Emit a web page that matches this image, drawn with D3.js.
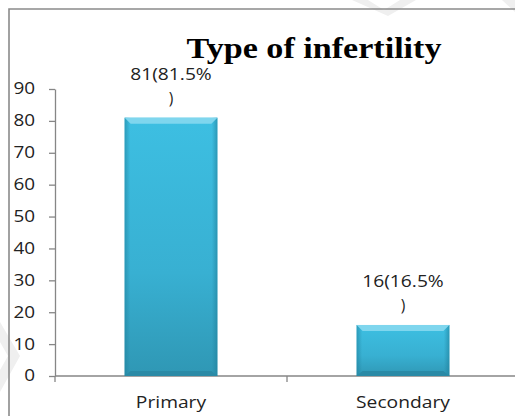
<!DOCTYPE html>
<html lang="en">
<head>
    <meta charset="UTF-8">
    <title>Type of infertility</title>
    <script src="https://d3js.org/d3.v7.min.js"></script>
    <style>
        html, body {
            margin: 0;
            overflow: hidden;
            background: #fff;
        }

        svg {
            display: block;
        }

        .axis text {
            font-family: "Open Sans", sans-serif;
            font-size: 15.5px;
            fill: #222;
        }

        .axis path,
        .axis line {
            stroke: #868686;
            stroke-width: 1.3px;
        }

        .label {
            font-family: "Open Sans", sans-serif;
            font-size: 15.5px;
            fill: #222;
        }

        .title {
            font-family: "Liberation Serif", "Times New Roman", serif;
            font-weight: bold;
            font-size: 30px;
            fill: #000;
        }
    </style>
</head>
<body>
    <svg width="515" height="416"></svg>
    <script>
        // chart data
        const categories = ["Primary", "Secondary"];
        const counts = [81, 16];
        const percents = ["81.5%", "16.5%"];
        const yTicks = [0, 10, 20, 30, 40, 50, 60, 70, 80, 90];

        const width = 515;
        const height = 416;
        const margin = { top: 89, bottom: 40, left: 55, right: -4 };

        const svg = d3.select("svg");

        // the source picture is stretched sideways, so text is widened to match
        function stretch(sel, sx) {
            sel.each(function () {
                const w = this.getComputedTextLength();
                d3.select(this)
                    .attr("textLength", w * sx)
                    .attr("lengthAdjust", "spacingAndGlyphs");
            });
        }

        // faint watermark shapes in the background
        svg.append("path")
            .attr("d", "M352,0 L368,0 L384,10 L400,0 L416,0 L388,16 Z M502,0 L515,0 L515,12 Z M0,322 L20,356 L0,392 L0,370 L8,356 L0,342 Z")
            .attr("fill", "#efefef");

        // frame of the chart area
        svg.append("path")
            .attr("d", `M9,${height} L9,9 L${width},9`)
            .attr("fill", "none")
            .attr("stroke", "#8a8a8a")
            .attr("stroke-width", 1.6);

        const xScale = d3.scaleBand()
            .domain(categories)
            .range([margin.left, width - margin.right]);

        const yScale = d3.scaleLinear()
            .domain([0, 90])
            .range([height - margin.bottom, margin.top]);

        // bar gradients
        const defs = svg.append("defs");
        const grad = defs.append("linearGradient")
            .attr("id", "barFill")
            .attr("x1", 0).attr("y1", 0).attr("x2", 0).attr("y2", 1);
        grad.append("stop").attr("offset", "0%").attr("stop-color", "#3dbfe2");
        grad.append("stop").attr("offset", "60%").attr("stop-color", "#38b0d2");
        grad.append("stop").attr("offset", "100%").attr("stop-color", "#2f97b4");

        const sideGrad = defs.append("linearGradient")
            .attr("id", "sideShade")
            .attr("x1", 0).attr("y1", 0).attr("x2", 1).attr("y2", 0);
        sideGrad.append("stop").attr("offset", "0%").attr("stop-color", "#1f7f9a").attr("stop-opacity", 0.55);
        sideGrad.append("stop").attr("offset", "6%").attr("stop-color", "#1f7f9a").attr("stop-opacity", 0);
        sideGrad.append("stop").attr("offset", "94%").attr("stop-color", "#1f7f9a").attr("stop-opacity", 0);
        sideGrad.append("stop").attr("offset", "100%").attr("stop-color", "#1f7f9a").attr("stop-opacity", 0.6);

        // y axis
        const yAxis = svg.append("g").attr("class", "axis")
            .attr("transform", `translate(${margin.left},0)`)
            .call(d3.axisLeft(yScale).tickValues(yTicks).tickSize(6).tickSizeOuter(0).tickPadding(14));
        stretch(yAxis.selectAll("text"), 1.22);

        // x axis line with ticks at band edges
        const xAxis = svg.append("g").attr("class", "axis");
        xAxis.append("line")
            .attr("x1", margin.left).attr("x2", width)
            .attr("y1", yScale(0)).attr("y2", yScale(0));
        const edges = categories.map(c => xScale(c)).concat([xScale(categories[1]) + xScale.bandwidth()]);
        xAxis.selectAll(".edge")
            .data(edges)
            .enter().append("line")
            .attr("class", "edge")
            .attr("x1", d => d).attr("x2", d => d)
            .attr("y1", yScale(0)).attr("y2", yScale(0) + 6);
        xAxis.selectAll(".cat")
            .data(categories)
            .enter().append("text")
            .attr("class", "cat")
            .attr("x", d => xScale(d) + xScale.bandwidth() / 2)
            .attr("y", yScale(0) + 32)
            .attr("text-anchor", "middle")
            .text(d => d);
        stretch(xAxis.selectAll(".cat"), 1.24);

        // bars
        const barW = xScale.bandwidth() * 0.4;
        const bars = svg.selectAll(".bar")
            .data(counts)
            .enter().append("g")
            .attr("class", "bar")
            .attr("transform", (d, i) => `translate(${xScale(categories[i]) + (xScale.bandwidth() - barW) / 2},${yScale(d)})`);

        bars.append("rect")
            .attr("width", barW)
            .attr("height", d => yScale(0) - yScale(d))
            .attr("fill", "url(#barFill)");
        bars.append("rect")
            .attr("width", barW)
            .attr("height", d => yScale(0) - yScale(d))
            .attr("fill", "url(#sideShade)");
        // bevel highlight on top, darker lip at bottom
        bars.append("path")
            .attr("d", `M0,0 L${barW},0 L${barW - 6},6 L6,6 Z`)
            .attr("fill", "#7fd6ee");
        bars.append("path")
            .attr("d", d => `M6,${yScale(0) - yScale(d) - 5} L${barW - 6},${yScale(0) - yScale(d) - 5} L${barW},${yScale(0) - yScale(d)} L0,${yScale(0) - yScale(d)} Z`)
            .attr("fill", "#2a8aa6");

        // data labels, wrapped on two lines like the original
        counts.forEach((v, i) => {
            const cx = xScale(categories[i]) + xScale.bandwidth() / 2;
            const top = yScale(v);
            const l1 = svg.append("text").attr("class", "label")
                .attr("x", cx).attr("y", top - 38)
                .attr("text-anchor", "middle")
                .text(`${v}(${percents[i]}`);
            stretch(l1, 1.24);
            svg.append("text").attr("class", "label")
                .attr("x", cx).attr("y", top - 14)
                .attr("text-anchor", "middle")
                .text(")");
        });

        // title
        svg.append("text")
            .attr("class", "title")
            .attr("x", 314)
            .attr("y", 58)
            .attr("text-anchor", "middle")
            .attr("textLength", 255)
            .attr("lengthAdjust", "spacingAndGlyphs")
            .text("Type of infertility");
    </script>
</body>
</html>
